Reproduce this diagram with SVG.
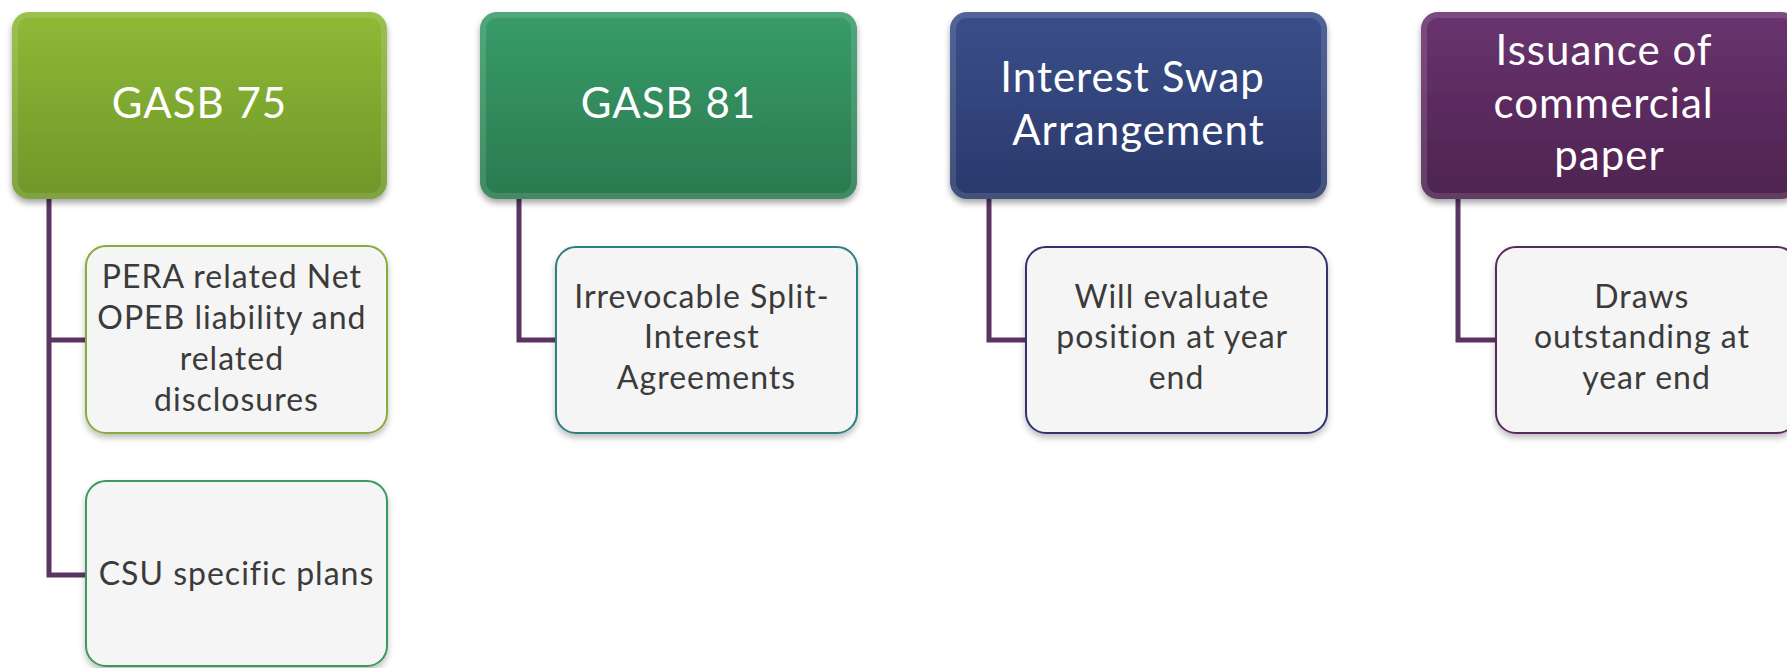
<svg xmlns="http://www.w3.org/2000/svg" width="1787" height="668" viewBox="0 0 1787 668">
  <defs>
    <linearGradient id="gLime" x1="0" y1="0" x2="0" y2="1">
      <stop offset="0" stop-color="#8fb936"/>
      <stop offset="1" stop-color="#6f9729"/>
    </linearGradient>
    <linearGradient id="gGreen" x1="0" y1="0" x2="0" y2="1">
      <stop offset="0" stop-color="#389c69"/>
      <stop offset="1" stop-color="#2a7a4f"/>
    </linearGradient>
    <linearGradient id="gNavy" x1="0" y1="0" x2="0" y2="1">
      <stop offset="0" stop-color="#3a4f8a"/>
      <stop offset="1" stop-color="#2a396b"/>
    </linearGradient>
    <linearGradient id="gPlum" x1="0" y1="0" x2="0" y2="1">
      <stop offset="0" stop-color="#6a3370"/>
      <stop offset="1" stop-color="#4d244f"/>
    </linearGradient>
    <filter id="shadow" x="-10%" y="-10%" width="120%" height="130%">
      <feDropShadow dx="0" dy="4" stdDeviation="3" flood-color="#000" flood-opacity="0.35"/>
    </filter>
    <filter id="softShadow" x="-10%" y="-10%" width="120%" height="130%">
      <feDropShadow dx="0" dy="4" stdDeviation="3" flood-color="#000" flood-opacity="0.25"/>
    </filter>
  </defs>
  <style>
    .head { filter: url(#shadow); }
    .bevel { fill: none; stroke: #ffffff; stroke-opacity: 0.12; stroke-width: 6; }
    .headText { font-family: Lato, "Liberation Sans", sans-serif; font-size: 42px; letter-spacing: 1px; fill: #ffffff; text-anchor: middle; }
    .child { fill: #f5f5f5; stroke-width: 2; filter: url(#softShadow); }
    .childText { font-family: Lato, "Liberation Sans", sans-serif; font-size: 32px; letter-spacing: 1px; fill: #3b3b3b; text-anchor: middle; }
    .link { fill: none; stroke: #5a3462; stroke-width: 5; stroke-linejoin: miter; }
  </style>
  <rect width="1787" height="668" fill="#ffffff"/>

  <!-- tree connectors -->
  <g id="connectors">
    <path class="link" d="M49 199 V575 H86 M49 340 H86"/>
    <path class="link" d="M519 199 V340 H556"/>
    <path class="link" d="M989 199 V340 H1026"/>
    <path class="link" d="M1458 199 V340 H1496"/>
  </g>

  <!-- column 1 -->
  <g id="gasb75">
    <rect class="head" x="12" y="12" width="375" height="187" rx="17" fill="url(#gLime)"/>
    <rect class="bevel" x="15" y="15" width="369" height="181" rx="14"/>
    <text class="headText" x="199.5" y="118">GASB 75</text>
  </g>
  <g id="pera">
    <rect class="child" x="86" y="246" width="301" height="187" rx="20" stroke="#8aab3c"/>
    <text class="childText" x="236.5">
      <tspan x="236.5" y="288">PERA related Net</tspan>
      <tspan x="236.5" y="329">OPEB liability and</tspan>
      <tspan x="236.5" y="370">related</tspan>
      <tspan x="236.5" y="411">disclosures</tspan>
    </text>
  </g>
  <g id="csu">
    <rect class="child" x="86" y="481" width="301" height="185" rx="20" stroke="#3a9a5c"/>
    <text class="childText" x="236.5" y="585">CSU specific plans</text>
  </g>

  <!-- column 2 -->
  <g id="gasb81">
    <rect class="head" x="480" y="12" width="377" height="187" rx="17" fill="url(#gGreen)"/>
    <rect class="bevel" x="483" y="15" width="371" height="181" rx="14"/>
    <text class="headText" x="668.5" y="118">GASB 81</text>
  </g>
  <g id="split">
    <rect class="child" x="556" y="247" width="301" height="186" rx="20" stroke="#2e7f80"/>
    <text class="childText">
      <tspan x="706.5" y="308">Irrevocable Split-</tspan>
      <tspan x="706.5" y="348">Interest</tspan>
      <tspan x="706.5" y="389">Agreements</tspan>
    </text>
  </g>

  <!-- column 3 -->
  <g id="swap">
    <rect class="head" x="950" y="12" width="377" height="187" rx="17" fill="url(#gNavy)"/>
    <rect class="bevel" x="953" y="15" width="371" height="181" rx="14"/>
    <text class="headText">
      <tspan x="1138.5" y="92">Interest Swap</tspan>
      <tspan x="1138.5" y="145">Arrangement</tspan>
    </text>
  </g>
  <g id="evaluate">
    <rect class="child" x="1026" y="247" width="301" height="186" rx="20" stroke="#30336e"/>
    <text class="childText">
      <tspan x="1176.5" y="308">Will evaluate</tspan>
      <tspan x="1176.5" y="348">position at year</tspan>
      <tspan x="1176.5" y="389">end</tspan>
    </text>
  </g>

  <!-- column 4 -->
  <g id="paper">
    <rect class="head" x="1421" y="12" width="377" height="187" rx="17" fill="url(#gPlum)"/>
    <rect class="bevel" x="1424" y="15" width="371" height="181" rx="14"/>
    <text class="headText">
      <tspan x="1609.5" y="65">Issuance of</tspan>
      <tspan x="1609.5" y="118">commercial</tspan>
      <tspan x="1609.5" y="170">paper</tspan>
    </text>
  </g>
  <g id="draws">
    <rect class="child" x="1496" y="247" width="301" height="186" rx="20" stroke="#5a2a5c"/>
    <text class="childText">
      <tspan x="1646.5" y="308">Draws</tspan>
      <tspan x="1646.5" y="348">outstanding at</tspan>
      <tspan x="1646.5" y="389">year end</tspan>
    </text>
  </g>
</svg>
